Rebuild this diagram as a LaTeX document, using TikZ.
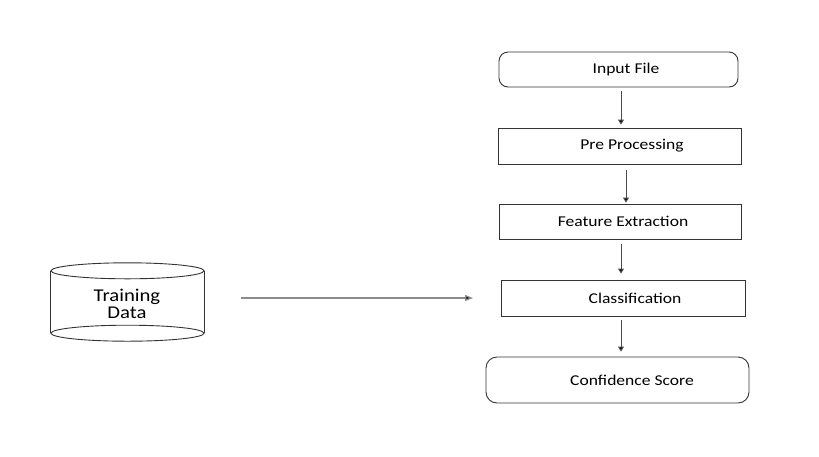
\documentclass[tikz,border=0pt]{standalone}
\usepackage{fontspec}
\setmainfont{Carlito}
\usetikzlibrary{arrows.meta}
\begin{document}
\begin{tikzpicture}[x=1pt,y=-1pt,
  box/.style={draw=black!80, line width=0.9pt, inner sep=0pt},
  rbox/.style={box, rounded corners=9pt},
  lbl/.style={inner sep=0pt, font=\fontsize{15}{18}\selectfont},
  arr/.style={draw=black!70, line width=1pt, -{Triangle[length=5pt,width=6pt,fill=black]}},
  harr/.style={draw=black!45, line width=1.3pt, -{Triangle[length=8pt,width=6pt,fill=black]}},
]
\useasboundingbox (0,0) rectangle (819,456);

% processing chain
\node[rbox, minimum width=239pt, minimum height=35pt] (inp) at (618.5,69.5) {};
\node[box,  minimum width=243pt, minimum height=36pt] (pre) at (619.5,146) {};
\node[box,  minimum width=242pt, minimum height=35pt] (feat) at (620,221.5) {};
\node[box,  minimum width=244pt, minimum height=36pt] (cls) at (623,298) {};
\node[rbox, minimum width=263pt, minimum height=46pt, rounded corners=11pt] (conf) at (617.5,380) {};

\node[lbl] (inptxt)  at (626,69.5) {\scalebox{1.17}[1]{Input File}};
\node[lbl] (pretxt)  at (632,146)  {\scalebox{1.17}[1]{Pre Processing}};
\node[lbl] (feattxt) at (623,221.5){\scalebox{1.17}[1]{Feature Extraction}};
\node[lbl] (clstxt)  at (635,298.5){\scalebox{1.17}[1]{Classification}};
\node[lbl] (conftxt) at (632,380)  {\scalebox{1.17}[1]{Confidence Score}};

% training data store
\node[inner sep=0pt, minimum width=153pt, minimum height=78pt] (train) at (127.5,302) {};
\draw[black!80, line width=0.9pt]
  (train.north west) ++(0,8) -- ++(0,62)
  (train.north east) ++(0,8) -- ++(0,62);
\draw[black!80, line width=0.9pt, fill=white]
  ([yshift=-8pt]train.north) ellipse[x radius=76.5pt, y radius=8pt];
\draw[black!80, line width=0.9pt]
  ([yshift=8pt]train.south) ellipse[x radius=76.5pt, y radius=8pt];
\node[inner sep=0pt, align=center, font=\fontsize{18}{17}\selectfont] (traintxt) at (127,304)
  {\scalebox{1.15}[1]{Training}\\\scalebox{1.15}[1]{Data}};

% connectors
\draw[arr] ([xshift=2.5pt,yshift=-4pt]inp.south) -- ([xshift=1.5pt,yshift=3pt]pre.north);
\draw[arr] ([xshift=6.5pt,yshift=-6pt]pre.south) -- ([xshift=6pt,yshift=1pt]feat.north);
\draw[arr] ([xshift=1pt,yshift=-5pt]feat.south) -- ([xshift=-2pt,yshift=6pt]cls.north);
\draw[arr] ([xshift=-2pt,yshift=-4pt]cls.south) -- ([xshift=3.5pt,yshift=5pt]conf.north);

\coordinate (src) at (241,298);
\coordinate (dst) at (473,298);
\draw[harr] (src) -- (dst);
\end{tikzpicture}
\end{document}
